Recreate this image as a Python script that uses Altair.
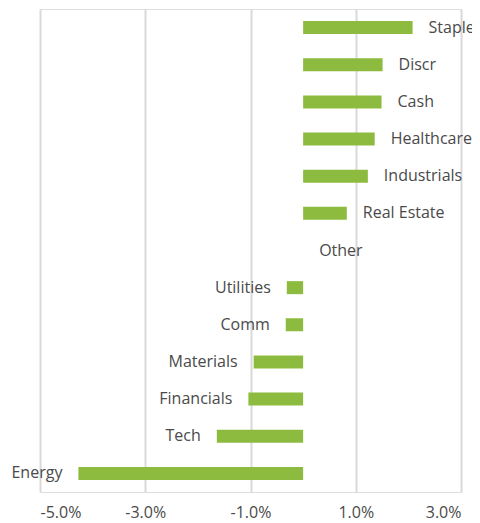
import altair as alt
import pandas as pd

categories = ["Staples", "Discr", "Cash", "Healthcare", "Industrials", "Real Estate",
              "Other", "Utilities", "Comm", "Materials", "Financials", "Tech", "Energy"]
values = [2.08, 1.51, 1.49, 1.36, 1.23, 0.83, 0.0, -0.31, -0.33, -0.94, -1.04, -1.64, -4.27]
tick_values = [-5, -3, -1, 1, 3]

df = pd.DataFrame({"sector": categories, "value": [v / 100 for v in values]})

FONT = "Open Sans"
GREEN = "#8DBB3F"
TXT = "#4A4A4A"

x = alt.X("value:Q",
          scale=alt.Scale(domain=[-0.05, 0.03], nice=False, zero=False),
          axis=alt.Axis(values=[t / 100 for t in tick_values], title=None,
                        labelExpr="replace(format(datum.value, '.1%'), '\u2212', '-')",
                        grid=True, gridColor="#D9D9D9", gridWidth=2, domain=False,
                        ticks=False, labelFont=FONT, labelFontSize=16, labelColor=TXT,
                        labelPadding=12))
y = alt.Y("sector:N", sort=categories, axis=None,
          scale=alt.Scale(paddingInner=0, paddingOuter=0))

bars = alt.Chart(df).mark_bar(size=13, color=GREEN).encode(x=x, y=y)

pos = alt.Chart(df).transform_filter("datum.value >= 0").mark_text(
    align="left", baseline="middle", dx=16, font=FONT, fontSize=16, color=TXT
).encode(x="value:Q", y=alt.Y("sector:N", sort=categories), text="sector:N")

neg = alt.Chart(df).transform_filter("datum.value < 0").mark_text(
    align="right", baseline="middle", dx=-16, font=FONT, fontSize=16, color=TXT
).encode(x="value:Q", y=alt.Y("sector:N", sort=categories), text="sector:N")

chart = alt.layer(bars, pos, neg).properties(
    width=421, height=483,
    autosize=alt.AutoSizeParams(type="none"),
    padding={"left": 32, "right": 11, "top": 1, "bottom": 31},
).configure_view(stroke=None).configure(background="white")

chart.save("out.html", embed_options={"renderer": "svg", "actions": False})
